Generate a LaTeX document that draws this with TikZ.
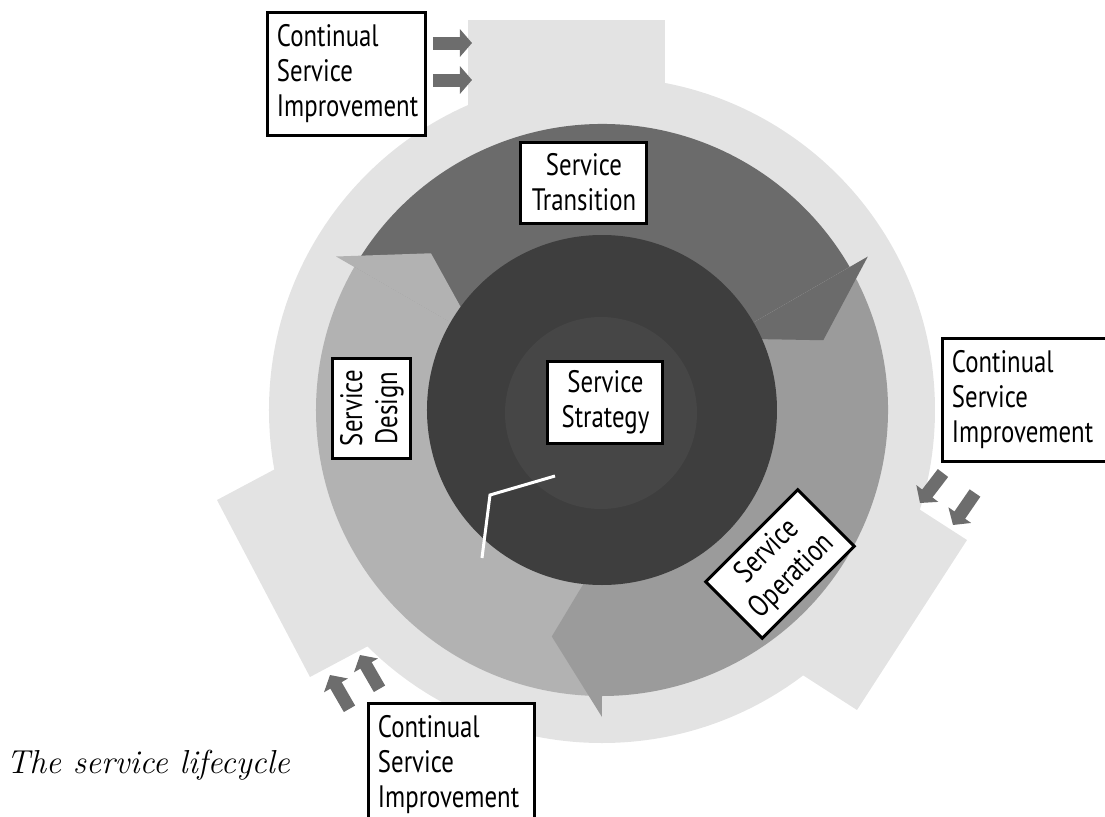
\documentclass[tikz,border=0pt]{standalone}
\usepackage{fontspec}
\usetikzlibrary{arrows.meta}
\newfontfamily\csifont[FakeStretch=0.8]{PT Sans}
\definecolor{ringlight}{HTML}{E3E3E3}
\definecolor{transgray}{HTML}{6B6B6B}
\definecolor{opergray}{HTML}{9B9B9B}
\definecolor{designgray}{HTML}{B2B2B2}
\definecolor{coredark}{HTML}{3E3E3E}
\definecolor{corelight}{HTML}{464646}
\definecolor{smallarrow}{HTML}{6D6D6D}
\begin{document}
\begin{tikzpicture}[x=0.5pt, y=0.5pt,
	labelbox/.style={draw=black, line width=1.5pt, fill=white, inner sep=0pt, align=center,
		font=\csifont\fontsize{15.5}{17.5}\selectfont},
	csibox/.style={labelbox, align=left, inner xsep=4.5pt, minimum height=61.5pt},
	csiarrow/.style={draw=smallarrow, line width=6.5pt, -{Triangle[length=6pt, width=13.5pt]}}]
	\def\rout{333} \def\rmid{286} \def\rin{175} \def\rbarb{307} \def\rtip{232}
	\useasboundingbox (-602,-406) rectangle (503,410);
	% outer ring and its three tabs
	\fill[ringlight] (0,0) circle (\rout);
	\fill[ringlight] (-134,300) -- (-134,390) -- (63,390) -- (63,300) -- cycle;
	\fill[ringlight] (306,-92) -- (365,-130) -- (255,-300) -- (196,-262) -- cycle;
	\fill[ringlight] (-323,-57) -- (-385,-90) -- (-292,-267) -- (-230,-234) -- cycle;
	% middle ring: three curved arrows
	\foreach \s/\col in {150/transgray, 30/opergray, -90/designgray}
	{\fill[\col] (\s:\rmid) arc[start angle=\s, end angle=\s-120, radius=\rmid]
		-- (\s-120:165) arc[start angle=\s-120, end angle=\s, radius=165] -- cycle;}
	\foreach \b/\col in {150/designgray, 30/transgray, -90/opergray}
	{\fill[\col] (\b:\rmid) -- (\b:\rbarb) -- (\b-12.5:\rtip) -- (\b-5:168) -- (\b:168) -- cycle;}
	% core
	\fill[coredark] (0,0) circle (\rin);
	\fill[corelight] (-1,-3) circle (96);
	\draw[white, line width=1.5pt] (-47,-66) -- (-112,-85) -- (-120,-148);
	% small arrows into the tabs
	\foreach \n/\bx/\by/\tx/\ty in {a/-169/367/-130/367, b/-169/330/-130/330,
		c/341/-63/318/-93, d/373/-83/351/-115,
		e/-252.5/-298.8/-272/-265, f/-222.5/-278.8/-242/-245}
	{\coordinate (\n s) at (\bx,\by); \coordinate (\n t) at (\tx,\ty);
		\draw[csiarrow] (\n s) -- (\n t);}
	% labels
	\node[labelbox, minimum width=63pt, minimum height=40.5pt] (transition) at (-18,227.5) {Service\\Transition};
	\node[labelbox, minimum width=57.5pt, minimum height=41pt] (strategy) at (3.5,8) {Service\\Strategy};
	\node[labelbox, rotate=90, minimum width=50pt, minimum height=39pt] (design) at (-230,2) {Service\\Design};
	\node[labelbox, rotate=45, minimum width=65pt, minimum height=40pt] (operation) at (178,-154) {Service\\Operation};
	\node[csibox, text width=70pt] (csitop) at (-255,336.5) {Continual\\Service\\Improvement};
	\node[csibox, text width=75.5pt] (csiright) at (425.5,10) {Continual\\Service\\Improvement};
	\node[csibox, text width=74pt] (csibottom) at (-150,-354.5) {Continual\\Service\\Improvement};
	\node[font=\itshape\fontsize{16.6}{20}\selectfont, anchor=base west, inner sep=0pt] (caption) at (-596,-363) {The service lifecycle};
\end{tikzpicture}
\end{document}
